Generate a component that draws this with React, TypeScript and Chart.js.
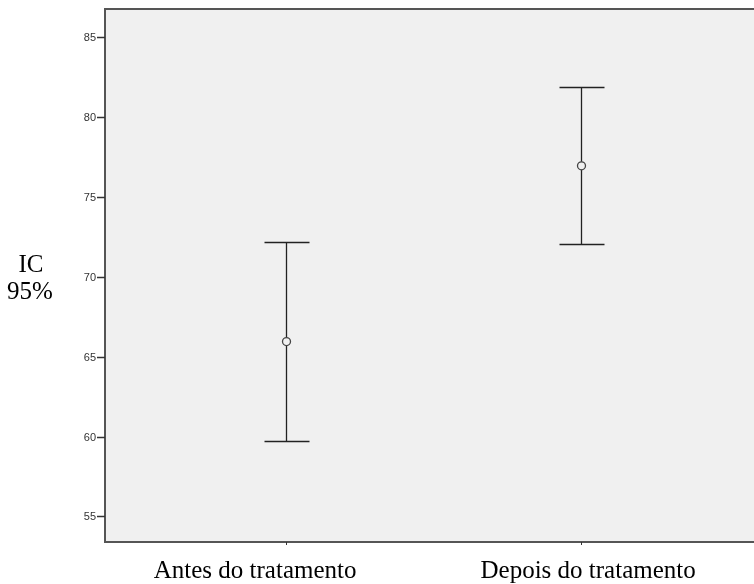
import React, { useEffect, useRef } from "react";
import { Chart, registerables } from "chart.js";

Chart.register(...registerables);

const categories = ["Antes do tratamento", "Depois do tratamento"];
const means = [65.94, 76.94];
const lowers = [59.72, 72.04];
const uppers = [72.18, 81.88];
const yTicks = [55, 60, 65, 70, 75, 80, 85];
const yTitleLines = ["IC", "95%"];
const labelOffsets = [-31, 7];

const framePlugin = {
  id: "frame",
  beforeDraw(chart: any) {
    const { ctx, chartArea } = chart;
    ctx.save();
    ctx.fillStyle = "#f0f0f0";
    ctx.fillRect(chartArea.left, chartArea.top, chartArea.right - chartArea.left + 10, chartArea.bottom - chartArea.top);
    ctx.restore();
  },
  afterDraw(chart: any) {
    const { ctx, chartArea } = chart;
    ctx.save();
    ctx.strokeStyle = "#555555";
    ctx.lineWidth = 2;
    ctx.beginPath();
    ctx.moveTo(chartArea.right + 5, chartArea.top);
    ctx.lineTo(chartArea.left, chartArea.top);
    ctx.lineTo(chartArea.left, chartArea.bottom);
    ctx.lineTo(chartArea.right + 5, chartArea.bottom);
    ctx.stroke();
    // y ticks
    const ys = chart.scales.y;
    ctx.lineWidth = 1.5;
    ctx.strokeStyle = "#333333";
    ctx.fillStyle = "#333333";
    ctx.font = "11px 'Liberation Sans', Arial, sans-serif";
    ctx.textAlign = "right";
    ctx.textBaseline = "middle";
    yTicks.forEach((v) => {
      const py = Math.round(ys.getPixelForValue(v)) + 0.5;
      ctx.beginPath();
      ctx.moveTo(chartArea.left - 8, py);
      ctx.lineTo(chartArea.left, py);
      ctx.stroke();
      ctx.fillText(String(v), chartArea.left - 9, py);
    });
    // x ticks
    const xs = chart.scales.x;
    ctx.lineWidth = 1;
    categories.forEach((_, i) => {
      const px = Math.round(xs.getPixelForValue(i + 1)) + 0.5;
      ctx.beginPath();
      ctx.moveTo(px, chartArea.bottom);
      ctx.lineTo(px, chartArea.bottom + 3);
      ctx.stroke();
    });
    // x labels
    ctx.fillStyle = "#000000";
    ctx.font = "25px 'Liberation Serif', 'Times New Roman', serif";
    ctx.textAlign = "center";
    ctx.textBaseline = "alphabetic";
    categories.forEach((c, i) => {
      ctx.fillText(c, xs.getPixelForValue(i + 1) + labelOffsets[i], 578);
    });
    // y title
    ctx.fillText(yTitleLines[0], 31, 272);
    ctx.fillText(yTitleLines[1], 30, 299);
    ctx.restore();
  },
  afterDatasetsDraw(chart: any) {
    const { ctx } = chart;
    const xs = chart.scales.x;
    const ys = chart.scales.y;
    ctx.save();
    ctx.strokeStyle = "#222222";
    ctx.lineWidth = 1.3;
    categories.forEach((_, i) => {
      const px = Math.round(xs.getPixelForValue(i + 1)) + 0.5;
      const pu = Math.round(ys.getPixelForValue(uppers[i])) + 0.5;
      const pl = Math.round(ys.getPixelForValue(lowers[i])) + 0.5;
      ctx.beginPath();
      ctx.moveTo(px, pu);
      ctx.lineTo(px, pl);
      ctx.moveTo(px - 22, pu);
      ctx.lineTo(px + 23, pu);
      ctx.moveTo(px - 22, pl);
      ctx.lineTo(px + 23, pl);
      ctx.stroke();
      const pm = ys.getPixelForValue(means[i]);
      ctx.beginPath();
      ctx.fillStyle = "#f0f0f0";
      ctx.arc(px, pm, 4, 0, Math.PI * 2);
      ctx.fill();
      ctx.strokeStyle = "#444444";
      ctx.lineWidth = 1.3;
      ctx.stroke();
      ctx.strokeStyle = "#222222";
    });
    ctx.restore();
  },
};

export default function App() {
  const ref = useRef<HTMLCanvasElement | null>(null);
  useEffect(() => {
    if (!ref.current) return;
    const chart = new Chart(ref.current, {
      type: "scatter",
      data: {
        datasets: [
          {
            data: means.map((m, i) => ({ x: i + 1, y: m })),
            pointRadius: 0,
            showLine: false,
          },
        ],
      },
      options: {
        animation: false,
        responsive: false,
        events: [],
        layout: { padding: { top: 9, left: 0, right: 0, bottom: 0 } },
        plugins: { legend: { display: false }, tooltip: { enabled: false } },
        scales: {
          x: {
            type: "linear",
            min: 0.386,
            max: 2.586,
            display: true,
            grid: { display: false, drawTicks: false },
            border: { display: false },
            ticks: { display: false },
            afterFit: (s: any) => {
              s.height = 42;
            },
          },
          y: {
            type: "linear",
            min: 53.4,
            max: 86.75,
            display: true,
            grid: { display: false, drawTicks: false },
            border: { display: false },
            ticks: { display: false },
            afterFit: (s: any) => {
              s.width = 105;
            },
          },
        },
      },
      plugins: [framePlugin],
    });
    return () => chart.destroy();
  }, []);
  return (
    <div style={{ position: "fixed", left: 0, top: 0, width: 754, height: 584, background: "#ffffff" }}>
      <canvas ref={ref} width={754} height={584} style={{ width: 754, height: 584, display: "block" }} />
    </div>
  );
}
